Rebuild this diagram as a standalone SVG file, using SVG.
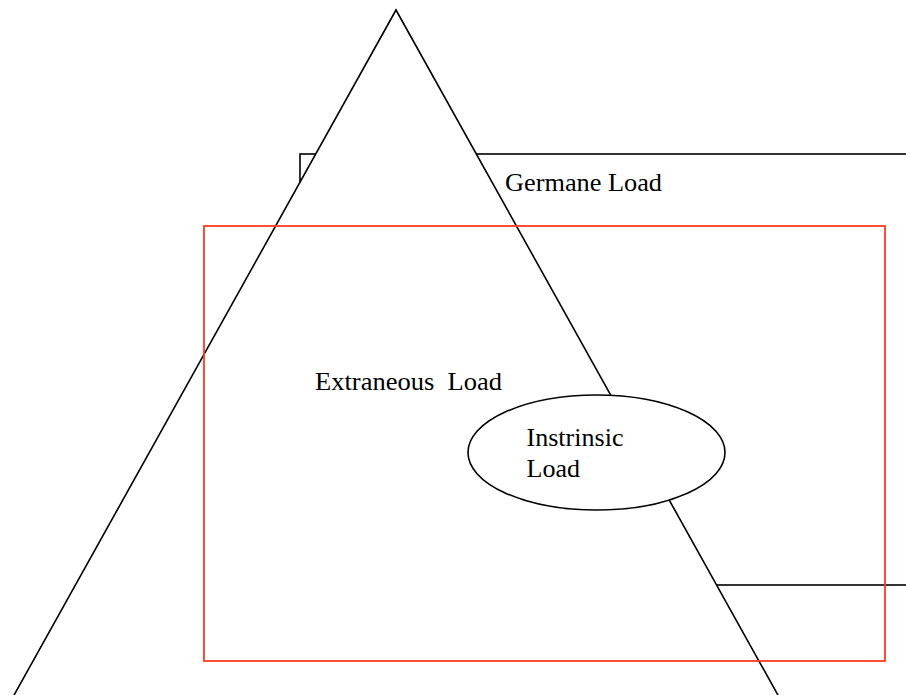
<svg xmlns="http://www.w3.org/2000/svg" width="906" height="695" viewBox="0 0 906 695">
  <style>
    .line { fill: none; stroke: #000; stroke-width: 1.6; }
    .solid { fill: #fff; stroke: #000; stroke-width: 1.6; }
    .red { fill: none; stroke: #ff3b1f; stroke-width: 1.8; }
    .label { font-family: "Liberation Serif", "Times New Roman", serif; font-size: 26px; fill: #000; }
  </style>
  <rect width="906" height="695" fill="#fff"/>
  <g id="germane">
    <rect class="line" x="300" y="154" width="640" height="431"/>
    <text class="label" x="505" y="191" textLength="157" lengthAdjust="spacingAndGlyphs">Germane Load</text>
  </g>
  <g id="pyramid">
    <polygon class="solid" points="396,10 -11,740 803,740"/>
  </g>
  <g id="extraneous">
    <rect class="red" x="204" y="226" width="681" height="435"/>
    <text class="label" x="315" y="390" xml:space="preserve" textLength="187" lengthAdjust="spacingAndGlyphs">Extraneous  Load</text>
  </g>
  <g id="intrinsic">
    <ellipse class="solid" cx="596.5" cy="452.5" rx="128.5" ry="57.5"/>
    <text class="label" x="526.5" y="446" textLength="97" lengthAdjust="spacingAndGlyphs">Instrinsic</text>
    <text class="label" x="526.5" y="476.5">Load</text>
  </g>
  <g id="connectors"/>
</svg>
